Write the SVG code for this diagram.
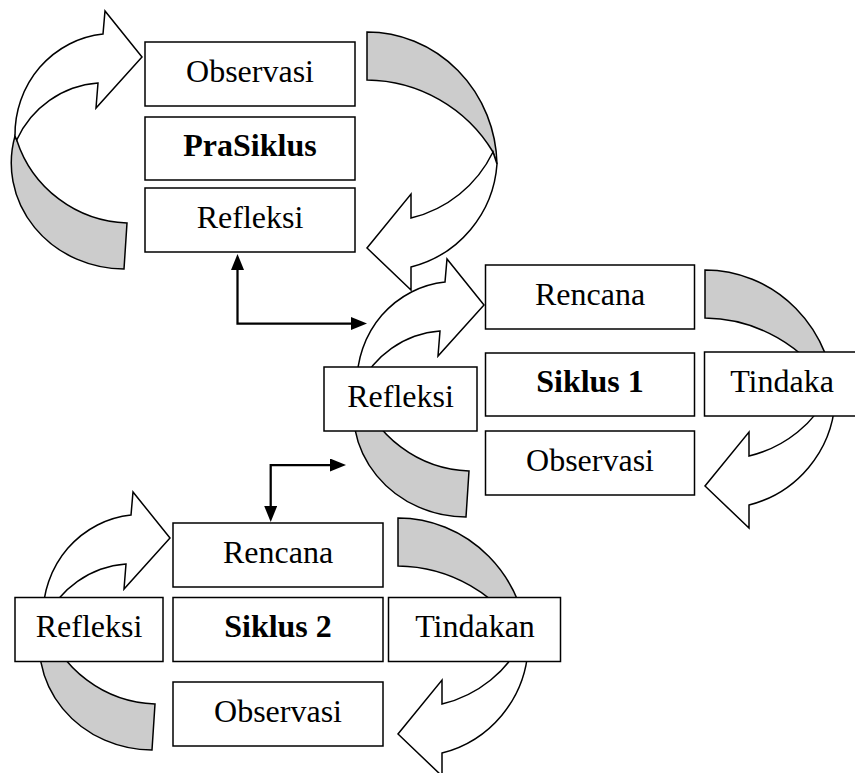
<svg xmlns="http://www.w3.org/2000/svg" xmlns:xlink="http://www.w3.org/1999/xlink" width="855" height="773" viewBox="0 0 855 773">
<style>
  .box { fill: #ffffff; stroke: #000000; stroke-width: 1.5; }
  .lbl { font-family: "Liberation Serif", "Times New Roman", serif; font-size: 32px; fill: #000000; text-anchor: middle; }
  .bold { font-weight: bold; }
  .band { fill: #cccccc; stroke: #000000; stroke-width: 1.5; stroke-linejoin: miter; }
  .face { fill: #ffffff; stroke: #000000; stroke-width: 1.5; stroke-linejoin: miter; }
  .conn { fill: none; stroke: #000000; stroke-width: 2.25; }
</style>
<defs>
  <g id="curvedRight">
    <path class="band" d="M 3,123 A 113 106 0 0 0 112,256 L 115,210 A 120 120 0 0 1 4.7,127 Z"/>
    <path class="face" d="M 3,123 A 98 101 0 0 1 91,21 L 93,-2 L 130,44 L 84,95 L 86,70 A 97 97 0 0 0 4.7,127 Z"/>
  </g>
  <g id="curvedLeft">
    <path class="band" d="M 0,0 A 130 135 0 0 1 130,132 L 126,120 A 149 149 0 0 0 0,48 Z"/>
    <path class="face" d="M 130,132 A 114.5 114.5 0 0 1 44,235 L 44,258 L 0,216 L 44,162 L 44,186 A 123 123 0 0 0 126,120 Z"/>
  </g>
  <marker id="head" viewBox="0 0 16 13" refX="0" refY="6.5" markerWidth="16" markerHeight="13" markerUnits="userSpaceOnUse" orient="auto-start-reverse">
    <path d="M 0,0 L 16,6.5 L 0,13 Z" fill="#000000"/>
  </marker>
</defs>

<g id="cycle-arrows">
  <use xlink:href="#curvedRight" href="#curvedRight" transform="translate(12,13)"/>
  <use xlink:href="#curvedLeft" href="#curvedLeft" transform="translate(367,32)"/>
  <use xlink:href="#curvedRight" href="#curvedRight" transform="translate(354,261)"/>
  <use xlink:href="#curvedLeft" href="#curvedLeft" transform="translate(705,270)"/>
  <use xlink:href="#curvedRight" href="#curvedRight" transform="translate(40,494)"/>
  <use xlink:href="#curvedLeft" href="#curvedLeft" transform="translate(398,518)"/>
</g>

<g id="pra-observasi">
  <rect class="box" x="145" y="42" width="210" height="64"/>
  <text class="lbl" x="250" y="81.5">Observasi</text>
</g>
<g id="pra-siklus">
  <rect class="box" x="145" y="117" width="210" height="63"/>
  <text class="lbl bold" x="250" y="156">PraSiklus</text>
</g>
<g id="pra-refleksi">
  <rect class="box" x="145" y="188" width="210" height="64"/>
  <text class="lbl" x="250" y="227.5">Refleksi</text>
</g>

<g id="s1-rencana">
  <rect class="box" x="485.5" y="265" width="209" height="64"/>
  <text class="lbl" x="590" y="304.5">Rencana</text>
</g>
<g id="s1-siklus">
  <rect class="box" x="485.5" y="353" width="209" height="63"/>
  <text class="lbl bold" x="590" y="392">Siklus 1</text>
</g>
<g id="s1-observasi">
  <rect class="box" x="485.5" y="431" width="209" height="64"/>
  <text class="lbl" x="590" y="470.5">Observasi</text>
</g>
<g id="s1-refleksi">
  <rect class="box" x="324" y="367" width="153" height="64"/>
  <text class="lbl" x="400.5" y="406.5">Refleksi</text>
</g>
<g id="s1-tindakan">
  <rect class="box" x="704.5" y="352" width="170" height="64"/>
  <text class="lbl" x="782" y="391.5">Tindaka</text>
</g>

<g id="s2-rencana">
  <rect class="box" x="173" y="523" width="210" height="64"/>
  <text class="lbl" x="278" y="562.5">Rencana</text>
</g>
<g id="s2-siklus">
  <rect class="box" x="173" y="597.5" width="210" height="64"/>
  <text class="lbl bold" x="278" y="637">Siklus 2</text>
</g>
<g id="s2-observasi">
  <rect class="box" x="173" y="682" width="210" height="64"/>
  <text class="lbl" x="278" y="721.5">Observasi</text>
</g>
<g id="s2-refleksi">
  <rect class="box" x="15" y="597.5" width="148" height="64"/>
  <text class="lbl" x="89" y="637">Refleksi</text>
</g>
<g id="s2-tindakan">
  <rect class="box" x="388.5" y="597.5" width="172" height="64"/>
  <text class="lbl" x="475" y="637">Tindakan</text>
</g>

<g id="connectors">
  <path class="conn" d="M 237.5,270 V 323.5 H 351" marker-start="url(#head)" marker-end="url(#head)"/>
  <path class="conn" d="M 270.7,506 V 465 H 330" marker-start="url(#head)" marker-end="url(#head)"/>
</g>
</svg>
